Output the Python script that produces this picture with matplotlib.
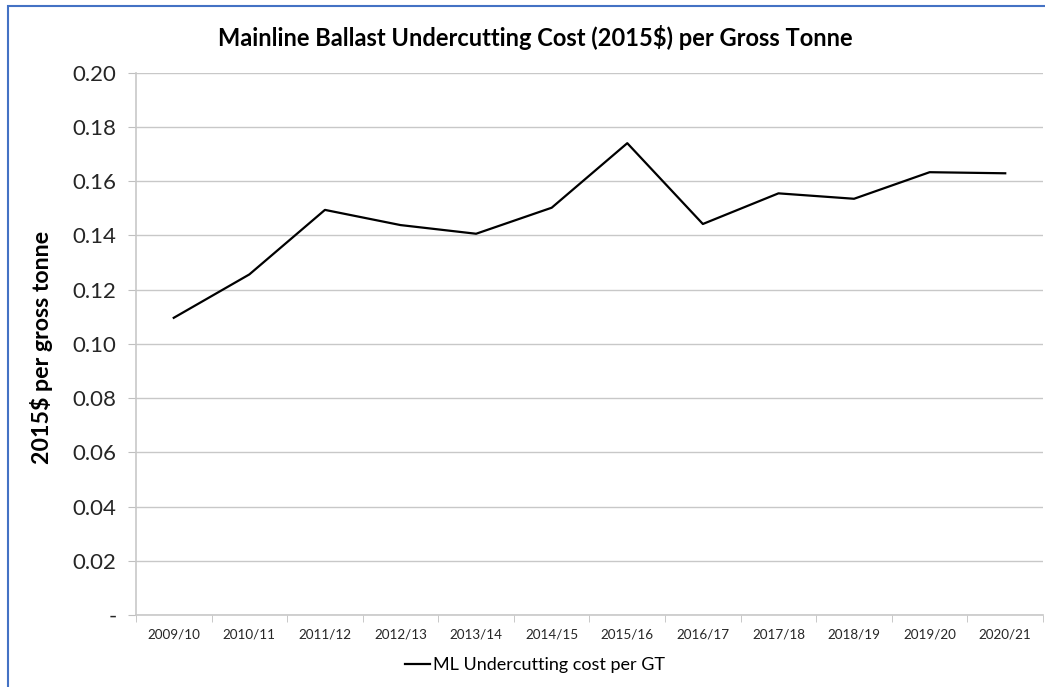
import numpy as np
import matplotlib.pyplot as plt
from matplotlib.patches import Rectangle
from matplotlib.ticker import FixedLocator, FuncFormatter

plt.rcParams['font.family'] = ['Lato', 'DejaVu Sans']

years = ['2009/10', '2010/11', '2011/12', '2012/13', '2013/14', '2014/15',
         '2015/16', '2016/17', '2017/18', '2018/19', '2019/20', '2020/21']
cost_per_gt = [0.1096, 0.1256, 0.1494, 0.1438, 0.1406, 0.1502,
               0.1740, 0.1442, 0.1555, 0.1535, 0.1633, 0.1629]
y_ticks = [0.0, 0.02, 0.04, 0.06, 0.08, 0.10, 0.12, 0.14, 0.16, 0.18, 0.20]

fig = plt.figure(figsize=(10.45, 6.87), dpi=100)
ax = fig.add_axes([0.1301, 0.1048, 0.868, 0.7894])

x = np.arange(len(years))
ax.plot(x, cost_per_gt, color='black', lw=1.6, label='ML Undercutting cost per GT')

ax.set_xlim(-0.5, len(years) - 0.5)
ax.set_ylim(0, 0.20)

# category labels in the middle, tick marks on the boundaries
ax.set_xticks(x)
ax.set_xticklabels(years, fontsize=9.7, color='#262626')
ax.tick_params(axis='x', which='major', length=0, pad=10)
ax.xaxis.set_minor_locator(FixedLocator(np.arange(-0.5, len(years), 1)))
ax.tick_params(axis='x', which='minor', length=5, color='#BFBFBF')

ax.set_yticks(y_ticks)
ax.yaxis.set_major_formatter(FuncFormatter(lambda v, p: '-' if v == 0 else f'{v:.2f}'))
ax.tick_params(axis='y', labelsize=16, length=6, color='#BFBFBF', pad=8, labelcolor='#262626')

ax.grid(axis='y', color='#C8C8C8', lw=1)
ax.set_axisbelow(True)
for side in ['top', 'right']:
    ax.spines[side].set_visible(False)
ax.spines['left'].set_color('#C8C8C8')
ax.spines['bottom'].set_color('#C8C8C8')
ax.spines['left'].set_linewidth(1.2)
ax.spines['bottom'].set_linewidth(1.2)

ax.set_ylabel('2015$ per gross tonne', fontsize=16.7, fontweight='bold')
ax.yaxis.set_label_coords(-0.0915, 0.494)

fig.text(0.512, 0.946, 'Mainline Ballast Undercutting Cost (2015$) per Gross Tonne',
         ha='center', va='center', fontsize=17, fontweight='bold')

fig.legend(loc='center', bbox_to_anchor=(0.512, 0.032), frameon=False,
           fontsize=13, handlelength=1.4, handletextpad=0.15)

# blue chart border
fig.patches.append(Rectangle((8 / 1045, -0.05), 1.1, 1 - 6 / 687 + 0.05,
                             transform=fig.transFigure, fill=False,
                             edgecolor='#4472C4', lw=1.5))

fig.savefig('out.png', dpi=100)
